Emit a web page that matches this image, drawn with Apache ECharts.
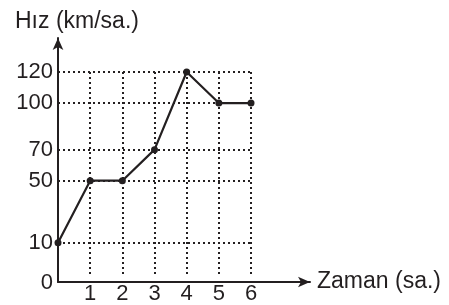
<!DOCTYPE html>
<html>
<head>
<meta charset="utf-8">
<script src="https://cdn.jsdelivr.net/npm/echarts@6/dist/echarts.min.js"></script>
<style>
  html, body { margin: 0; padding: 0; background: #fff; }
  #chart { width: 449px; height: 305px; }
</style>
</head>
<body>
<div id="chart"></div>
<script>
// zaman (saat) ve hiz degerleri
let hours = [0, 1, 2, 3, 4, 5, 6];
let speed = [10, 50, 50, 70, 120, 100, 100];
let yTicks = [10, 50, 70, 100, 120];
let xTicks = [1, 2, 3, 4, 5, 6];
// eksen 0 ile 10 arasinda kirik: alt kenar -12 degerine denk gelir, etiket "0"
let yBottom = -12;

let ink = '#231f20';
let font = 'Liberation Sans, Arial, sans-serif';

let points = hours.map((h, i) => [h, speed[i]]);

let option = {
    animation: false,
    title: {
        text: 'Hız (km/sa.)',
        left: 10,
        top: 5,
        textStyle: { fontFamily: font, fontSize: 23, fontWeight: 'normal', color: ink }
    },
    grid: [
        { left: 58, right: 198, top: 72, bottom: 23 },   // veri + noktali kilavuz
        { left: 58, right: 139, top: 38, bottom: 23 }    // okli eksenler
    ],
    xAxis: [
        {
            type: 'value', gridIndex: 0, min: 0, max: 6,
            axisLine: { show: false },
            axisTick: { show: false, customValues: xTicks },
            axisLabel: { customValues: xTicks, fontFamily: font, fontSize: 22, color: ink, margin: 6 },
            splitLine: { show: true, lineStyle: { color: ink, width: 2, type: [2, 3] } }
        },
        {
            type: 'value', gridIndex: 1, min: 0, max: 1,
            axisLine: { show: true, symbol: ['none', 'arrow'], symbolSize: [8, 12], lineStyle: { color: ink, width: 2 } },
            axisTick: { show: false },
            axisLabel: { show: false },
            splitLine: { show: false },
            name: 'Zaman (sa.)',
            nameLocation: 'end',
            nameGap: 7,
            nameTextStyle: { fontFamily: font, fontSize: 23, color: ink }
        }
    ],
    yAxis: [
        {
            type: 'value', gridIndex: 0, min: yBottom, max: 120,
            axisLine: { show: false },
            axisTick: { show: false, customValues: yTicks },
            axisLabel: {
                customValues: [yBottom].concat(yTicks),
                formatter: v => (v === yBottom ? '{z|0}' : String(v)),
                fontFamily: font, fontSize: 22, color: ink, margin: 5,
                rich: { z: { fontFamily: font, fontSize: 22, color: ink, padding: [11, 0, 0, 0] } }
            },
            splitLine: { show: true, lineStyle: { color: ink, width: 2, type: [2, 3] } }
        },
        {
            type: 'value', gridIndex: 1, min: 0, max: 1,
            axisLine: { show: true, symbol: ['none', 'arrow'], symbolSize: [8, 12], lineStyle: { color: ink, width: 2 } },
            axisTick: { show: false },
            axisLabel: { show: false },
            splitLine: { show: false }
        }
    ],
    series: [{
        type: 'line',
        xAxisIndex: 0,
        yAxisIndex: 0,
        data: points,
        symbol: 'circle',
        symbolSize: 7,
        itemStyle: { color: ink },
        lineStyle: { color: ink, width: 2.2 },
        z: 5
    }]
};

let chart = echarts.init(document.getElementById('chart'));
chart.setOption(option);
</script>
</body>
</html>
